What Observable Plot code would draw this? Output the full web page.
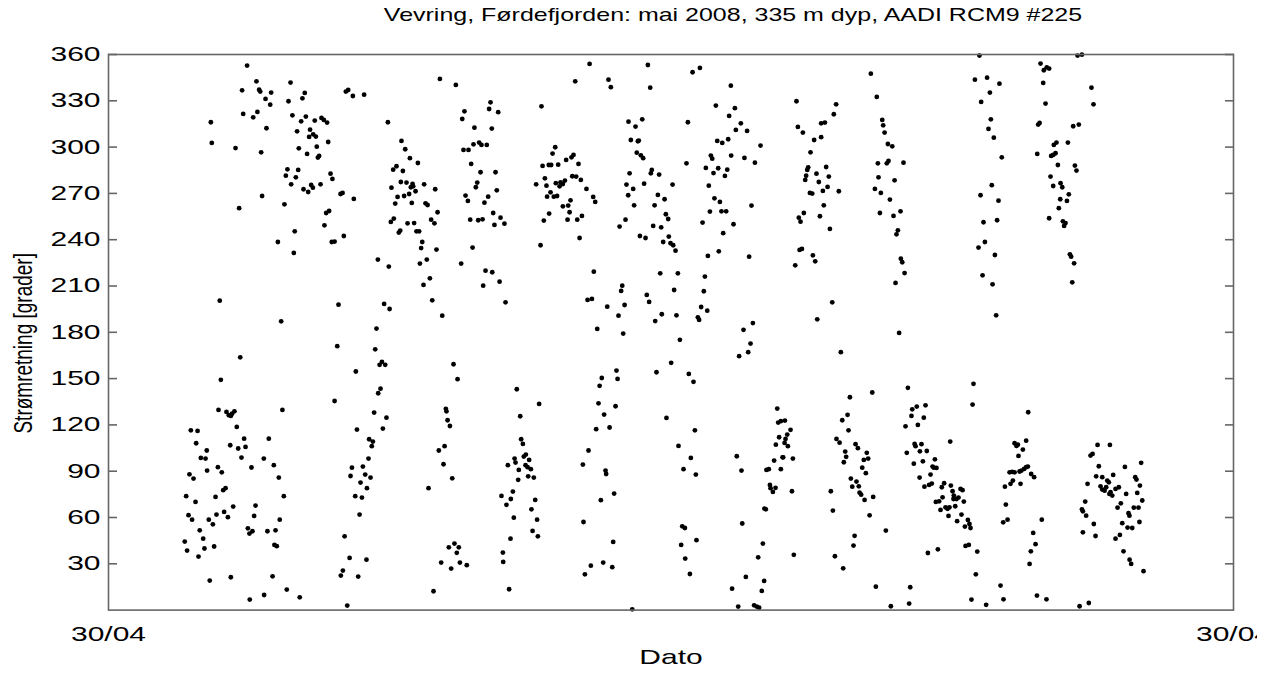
<!DOCTYPE html>
<html>
<head>
<meta charset="utf-8">
<script src="https://cdn.jsdelivr.net/npm/d3@7"></script>
<script src="https://cdn.jsdelivr.net/npm/@observablehq/plot@0.6"></script>
<style>
  html, body { margin: 0; padding: 0; background: #fff; }
  body { width: 1274px; height: 689px; overflow: hidden; font-family: "Liberation Sans", Arial, sans-serif; position: relative; }
  #title { position: absolute; left: 0; top: 0; width: 1274px; height: 30px; }
  #title span { position: absolute; left: 733px; top: 15px; font-size: 18.5px; line-height: 1; color: #000; white-space: nowrap; transform: translate(-50%, -50%) scaleX(1.35); }
  #chart { position: absolute; left: 0; top: 30px; }
</style>
</head>
<body>
<div id="title"><span></span></div>
<div id="chart"></div>
<script>
const titleText = "Vevring, Førdefjorden: mai 2008, 335 m dyp, AADI RCM9 #225";
const yLabel = "Strømretning [grader]";
const xLabel = "Dato";
const yTicks = [30, 60, 90, 120, 150, 180, 210, 240, 270, 300, 330, 360];
const xTicks = [0, 720];               // hours since 30/04 00:00
const xTickLabels = ["30/04", "30/04"];

// time of each observation, hours after 30/04 00:00
const hours = [
  88.7,94.7,116.5,85.5,96.4,97.1,104.1,125.6,100.5,124.1,
  115.2,103.5,86.2,95.3,92.6,117.7,126.3,123.3,132,136.3,
  137.8,139.9,65.5,101.1,120.7,129,131,132.7,128.4,140.6,
  66.1,81.3,121.8,133.3,97.7,127.1,134.8,134,114.5,121.4,
  113.5,119.9,142.1,143.3,116.9,129.7,135.7,130.8,124.8,127.8,
  98.3,83.6,112.6,139.3,141.2,138.2,119.2,108.4,142.9,118.6,
  71.2,110.5,
  84.3,71.9,70.4,111.3,75.5,77,78.3,79.1,80.6,52.7,
  57,82.1,56.1,86.8,102.6,77.9,83,87.7,62.9,59.1,
  62.1,85.1,99.4,70,72.5,91.5,105.8,63.1,51.8,54.4,
  109,73.4,74.9,49.7,68.5,112.2,55.7,79.8,94.1,51.2,
  53.5,69.1,74,76.4,93.2,64.2,109.6,66.8,89.2,90.2,
  92.1,58.4,101.7,106.9,60.6,48.8,50.3,61.4,67.6,106.2,
  107.7,57.6,64.8,78.3,105,114.1,90.4,99.6,122.4,
  144.7,148.5,149.8,157,150.6,147.2,151.9,153.4,156.4,163.6,
  212.1,222.3,178.8,187.5,189.9,192.9,198,182.2,184.3,188.4,
  187.1,190.7,194.6,193.5,195,196.5,181.1,202,209.1,185,
  189.2,192.4,183.5,194.1,202.9,204.2,210.6,180.7,182.6,191.4,
  195.6,206.5,208.6,185.8,186.7,197.1,198.8,200.8,200.1,209.9,
  172.4,179.4,199.3,203.7,205.7,201.6,207.2,176.4,179.9,213.6,
  244.5,243.6,249.4,227.8,226.4,234.2,245.3,227.2,230.4,233.6,
  237.2,238.7,242.1,232.1,238.1,247.7,236,235.1,228.5,230,
  243,240.6,248.5,246.2,250.9,231.5,236.6,239.4,247,253.4,
  233,225.7,241.3,245.6,239.8,250.3,254.1,
  277.1,285.9,284.2,277.8,281.8,283.3,279.3,273.7,280.3,286.3,
  282.9,280.7,285,287.1,282,278.6,276.5,
  171.5,146.4,170.7,158.3,173.5,175,177.1,144.7,174.1,172.6,
  170,177.9,159,175.6,166.8,169.2,168.5,166.4,155.8,162.8,
  154.9,164.3,167.7,161.3,165.4,157.9,162.2,160.7,151.1,154.3,
  165.1,150,148.7,159.8,152.8,
  220.8,223.4,215.9,216.3,217,218.5,215.1,211.4,214.4,220,
  204.8,221.4,217.8,224.2,222.9,212.9,224.9,219.3,229.3,208,
  261.3,275.6,263.5,264.1,265.2,267.1,265.8,259.9,260.5,269.2,
  255.6,266.9,268.2,270.3,262.6,268.6,272.2,262.2,258.8,251.5,
  257.5,254.7,273.1,270.7,259.4,274.3,271.4,274.8,257.3,252.4,
  252.6,256.4,
  287.8,292.9,296.3,297.6,300.8,289.3,290.8,292.1,288.7,296.8,
  299.3,302.3,305.9,310.2,311.5,295.7,290.8,294.2,295.1,293.8,
  300,303,301.5,298.7,307.9,320,321.5,345.2,346.7,310.6,
  306.6,309.4,319.2,326.4,328.8,328.1,330.3,
  332.8,337.3,341.6,334.3,338.8,339.4,338.1,340.7,342.2,333.5,
  331.5,335.8,332.6,342.8,347.7,347.1,352.4,361,336.4,349.5,
  351.6,355.9,356.7,358.2,330.9,327.1,348.6,353.7,340.1,343.7,
  358.6,355,359.7,361.4,362.9,353.1,364.4,362,344.5,346,
  354.1,349.9,363.5,
  373.8,378.5,398.3,388.7,400.9,397.2,370.8,404.7,401.5,408.7,
  389.6,392.8,396.6,417.3,385.5,386.4,398.5,407,413.7,369.9,
  382.3,387.2,390.2,396,394.5,384.2,387.8,391.3,384.9,392.3,
  395.3,411.5,380.2,400,393.4,390.6,383.6,410,381.7,381,
  379.3,383.2,377.2,378,412.4,
  312.8,329.4,406.4,365.7,410.9,409.4,403.6,360.1,350.7,371.4,
  374.4,325.1,325.8,315.7,314.3,313.6,324.5,317.2,312.1,320.7,
  357.1,375.3,307.2,303.6,318.1,318.5,364.8,372.7,368,375.9,
  402.1,405.1,323.6,315.1,304,367.2,368.9,405.6,323,366.5,
  376.3,369.1,372.1,308.7,316.6,322.4,304.9,335.2,
  428,428.6,430.3,429.2,427.1,426,431.4,421.1,422.6,430.3,
  423.3,423.7,426.9,425.2,419.8,420.7,418.8,415.8,407.9,419.6,
  399.1,418.1,403,413.2,414.9,416.4,
  440.3,465.7,464.2,441.2,444.4,456.1,458.5,451.6,456.1,449.3,
  447.8,447.2,459.3,453.1,446.5,445.9,461,454.6,460.2,457.2,
  448.9,450.4,467.4,457.8,445,441.8,442.9,455.3,461.7,442.3,
  443.8,450.8,452.3,439.5,463.2,453.6,
  487.9,491.7,495.2,495.8,496.7,498.8,501.6,492.4,498.1,499.2,
  508.8,492.8,503.1,490.5,494.3,500.1,493.7,502.4,506.9,505.2,
  504.3,507.1,508,509.5,503.7,
  557.4,554.5,562.3,570.2,564.1,558.5,564.7,563.2,566.6,571.7,
  565.3,558.1,569.6,560,568.7,560.9,556.8,567.3,559.4,565.8,568.1,
  506,468.7,432.9,436.5,434.4,433.3,434.8,432.7,431.8,438,
  437.4,438.6,462.3,463.6,464.9,470.2,
  474.5,488.8,473,469.6,473.6,465.9,467.9,471.5,472.1,470.6,
  478.1,479.6,485.3,483.4,486.2,482.4,484.7,475.1,478.7,476,
  480.2,480.7,481.7,483.9,489.4,487.1,497.5,477.5,476.8,491.1,500.7,
  511.6,553.6,553,514.4,517.3,522.9,513.9,521.8,518,510.1,
  538.7,515.9,516.5,520.3,519.3,523.7,510.9,515.4,521.2,528.9,
  527.4,529.9,528.2,526.1,519.1,522.2,525.2,526.9,534.8,539.1,
  533.3,529.5,531.6,533.8,535.7,537,538.2,532.5,537.6,540.2,
  541,540.8,542.7,544,545.3,546.6,547.4,541.9,545.9,543.1,
  548.1,550,551,551.7,548.5,550.6,556,555.1,524.4,530.8,
  513.1,512.4,552.3,561.7,570.9,572.8,573.7,574.3,572.6,575.4,
  620.2,623,596.5,598.6,600.5,602,598.2,629.1,599.7,630.4,
  595,595.9,617.4,621,605,606.7,614,594.4,603.3,604.6,
  606.1,607.6,618.5,619.5,602.9,604.6,609.3,610.4,614.6,609.1,
  613.4,608.2,602,610.8,612.5,611.6,615.3,616.1,618,616.8,
  588.6,587.3,579.9,581.1,582,585.2,582.4,576.7,578.4,579.9,
  583.1,584.3,586,587.3,588.4,578.8,583.7,590.5,592.4,577.3,
  597.3,591.8,593.3,590.3,589.5,594.2,600.3,
  633,640.9,628.5,629.8,633.8,650.5,660.9,632.1,636,626.6,
  643,639.2,640.2,634.9,636,637.5,638.5,641.3,642.4,640.6,
  644.5,646.6,651.3,657.1,657.9,660.1,658.4,661.6,659.2,656.2,
  647.9,645.8,652.8,653.4,659.8,648.8,652.2,655.2,647.3,644.5,
  625.1,623,623.6,625.7,630.6,623.6,631.7,649.6,653.5,654.5,
  662.4,621.5,627.4
];

// current direction, degrees
const direction = [
  352.8,342.6,341.8,336.8,337.2,336,335.3,335.1,331.2,331.6,
  329.7,327.5,321.5,322.8,319.3,320.6,319.8,316.7,317.2,318.9,
  317.6,315.9,316.1,312.2,310.2,311.3,308.3,306.8,306.6,303.3,
  302.7,299.4,299.2,300.3,296.6,295.6,294.3,293.2,285.6,285.2,
  281.5,280.4,282.8,279.4,275.9,275.5,275.9,273.7,272.7,270.9,
  268.3,260.4,262.9,257.3,258.6,249.3,245.4,238.5,238.5,231.4,
  200.5,187.1,
  163.8,149.2,129.7,129.7,128.4,126.3,125.8,127.3,128.8,116.5,
  116.1,118.7,108.1,111.1,111.1,106.8,104.7,105.7,103.4,98.6,
  98.2,98.8,98.2,92.6,89.3,92.4,93.9,90.4,88,85.2,
  85.9,77.7,79,73.8,73.3,73.8,70.1,67.1,67.7,61.5,
  58.6,61.9,63.6,60.2,61,58.6,58.6,55.6,53,49.6,
  51.1,51.7,51.1,51.7,46.3,44.4,38.6,39.9,41.2,42.2,
  41.4,34.7,19.1,21.3,21.9,13.3,6.8,9.8,8.3,
  238.8,269.6,270.3,266.4,242.4,197.9,336,337,333.1,334,
  344.2,340.3,316.1,304,298.6,292.8,289.7,285.4,287.6,284.5,
  277.4,277,276.1,274,274.6,271.4,273.7,275.9,272.7,267.7,
  268.3,269.6,263.4,263.8,263.6,262.5,257.8,251.5,253.7,250.6,
  250.8,253,250.6,244.6,245.9,245.4,245.4,238.5,234.6,233.6,
  227.1,222.6,224.5,227.1,215,210.7,200.7,198.4,195.1,190.8,
  329,324.7,322.6,323.2,318.2,312.6,312,298.2,298.2,301.8,
  302.9,301.4,301.4,289.1,283.7,283.7,277,274,268.6,265.1,
  267.9,264,272,257.3,254.3,253,252.6,253.2,249.6,250.4,
  234.9,224.5,219.9,218.9,210.2,212.8,199.4,
  326.4,299.9,295.8,287.8,288.4,288.4,279.8,275.9,275,276.6,
  270.7,267.9,267.9,268.3,256.9,252.4,236.4,
  182.4,171,169,154.6,158.9,160.8,158.9,135.5,143.5,140.5,
  128,124.7,117,117.6,110.7,109.2,106.2,98.2,92.3,93,
  86.9,87.8,85.9,82.6,79,73.8,72.9,61.9,47.8,33.8,
  32.7,25.6,22.4,21.7,2.9,
  159.3,149.6,130.4,128.8,123,119.3,106.2,103.4,94.5,85.4,
  79,43.1,40.7,40.7,37.1,30.8,30.8,26.9,29.1,12.2,
  143.1,133.6,125.6,110.7,107.7,100.8,99.5,98.2,95.6,97.3,
  93.9,93.9,92.6,91.3,90.8,86.7,85.9,84.4,76.8,74,
  72,68.2,71.4,65.3,59.9,58.6,51.3,47.8,46.3,37.3,
  31.2,13.5,
  288.6,291.7,293.4,294.9,289.1,277.2,276.1,278.3,274.6,281.1,
  280.9,278.7,272.9,267.7,264.5,265.5,261.6,262.1,257.8,253,
  253,255.4,241.1,342.6,353.9,343.7,338.8,353.2,338.5,219.3,
  201,201.6,196.6,190.8,210.2,206.8,197.7,
  316.5,313.3,318,304.6,303.8,304.2,296.4,294.7,292.8,283,
  275.7,272.9,268.8,276.3,285.2,283,282.2,275.7,262.3,262.3,
  269,266.2,256.5,253.4,253,248.5,248.9,248,242.4,241.1,
  242,238.5,237.7,236.4,232.9,218.2,218.2,207.4,204.2,199.7,
  191.7,187.3,191,
  348.5,351.3,339.8,326.9,325.2,320.2,316.1,315.4,311.1,310.5,
  304,302.7,305.1,301,294.5,292.5,294.5,293,289.9,289.5,
  286.5,283.2,286.3,285.4,281.3,275,266.8,264.5,258.2,258.4,
  258.4,262.1,251.1,250,244.2,232.5,229.5,229,216.1,206.6,
  196.4,194,189.7,188,186,
  182.2,179.2,181.6,175.1,172.7,167.1,164.5,160.2,154.1,153,
  147.9,155.2,149.8,150.4,145.3,134,132.1,126.7,117.2,118.3,
  124.5,116.5,103.4,94.3,90.4,88.2,106.4,98.6,91.3,87.8,
  99.7,90.4,75.5,71.2,57.1,54.3,53.2,56.1,44.2,42.2,
  45.3,33.4,23.4,28.8,30.8,27.8,23.2,0.5,
  130.6,121.5,122.4,112,107.2,96.9,99,90.8,91.3,91.3,
  81.1,79,79.2,76.6,65.8,65.3,43.1,34.2,21.5,18.9,
  13.9,12.4,2.3,3.1,2.3,1.6,
  329.7,327.7,321.3,313.1,309.4,315.4,315.9,304.6,306.4,296.6,
  286.9,285.2,287.1,282.8,281.5,278.7,280.9,277.4,274.2,271.6,
  270.3,269.9,271.4,262.3,257.3,254.3,251.7,255.2,247,233.4,
  234,229.9,226,223.4,199.4,188.4,
  347.6,332.5,317.6,314.1,309.4,302,300.5,289.5,289.5,291,
  289.9,280.4,278.5,272.9,270.3,266,257.3,255.4,258.4,246.1,
  243.5,227.7,225.4,218.4,212,
  359.3,343.7,345,341.1,335.3,329.3,318,311.8,306.1,293.4,
  275.3,268.8,265.3,251.3,252.6,238.5,234.9,230.1,216.9,211.1,191,
  179.6,167.1,122.8,116.8,113.7,110.9,106.2,108.3,99,98.2,
  77,35.8,77,64.5,34.9,27.1,
  137.9,141,126.5,123,116.5,110.9,108.5,102.7,99.3,95.8,
  107.5,104.9,101.9,97.3,98.2,92.3,88.7,85.2,83.3,80,
  80.2,76.1,74.8,71.4,73.3,61.4,51.5,48.1,41.8,15.2,2.5,
  144,146.6,133.2,130.1,131.9,132.7,125.8,124.7,120,119.1,
  109.2,107.7,106.2,107.5,102.9,103.1,101.9,94.9,96.4,97.7,
  93,92.1,92.3,87.8,85.9,80,81.1,82,82.2,80.7,
  79.6,70.1,70.5,73.1,66.6,65.6,66.6,64.9,61,77,
  74.2,72,72,72.9,78.5,77.7,70.3,67.3,61.9,57.6,
  54.1,58.4,55.8,53.2,41.6,42.2,37.9,23.2,37,39.4,
  14.8,4.2,6.8,3.4,15.9,7,80,68.4,56.9,58.6,
  359.3,359.9,354.1,349.8,351.7,350.9,341.6,338.5,328.2,327.7,
  314.6,315.6,313.5,314.6,301.4,302.9,302.9,295.6,294.3,294.9,
  296,288.4,288,284.8,280.9,274.8,276.6,274,269.4,266.2,
  265.1,260.4,253.9,251.9,250.8,248.9,230.5,229,224.7,212.4,
  128.2,109.8,108.1,106.4,107.2,104,99.9,89.3,89.5,89.3,
  89.8,90.4,91.5,92.6,93,83.9,81.8,88.2,86.1,81.8,
  58.6,50,42.7,38.1,29.9,9.4,7,
  107,107,100.1,101.2,93.2,92.8,95.4,86.7,86.1,81.8,
  87.6,83.9,82.8,80.2,78.1,77.4,79.6,76.4,74.2,75.3,
  78.5,79.6,75.3,86.1,84.6,80.7,75.9,71,66.4,66.4,
  69.2,66.4,62.8,61.2,57.1,56.3,53.5,53.2,48.7,46.3,
  70.3,65.3,64,61.2,55.8,50.4,48,38.1,32.7,29.9,
  25.2,2.5,4.6
];

if (hours.length !== direction.length) console.error("length mismatch", hours.length, direction.length);
const data = hours.map((h, i) => ({h, d: direction[i]}));

document.querySelector("#title span").textContent = titleText;

const axisColor = "#666666";
const chart = Plot.plot({
  width: 1257,
  height: 659,
  marginTop: 24,
  marginBottom: 79.4,
  marginLeft: 108,
  marginRight: 24,
  x: {type: "linear", domain: [0, 720]},
  y: {type: "linear", domain: [0, 360]},
  style: {fontFamily: "'Liberation Sans', Arial, sans-serif", fontSize: "20px", color: "#000", background: "#fff", overflow: "hidden"},
  marks: [
    Plot.dot(data, {x: "h", y: "d", r: 2.4, fill: "#000", stroke: null}),
    Plot.frame({stroke: axisColor, strokeWidth: 1.6}),
    Plot.axisY({anchor: "left", ticks: yTicks, tickSize: -9, stroke: axisColor, strokeWidth: 1.6, tickFormat: () => "", label: null}),
    Plot.axisY({anchor: "right", ticks: yTicks, tickSize: -9, stroke: axisColor, strokeWidth: 1.6, tickFormat: () => "", label: null}),
    Plot.axisY({anchor: "left", ticks: yTicks, tickSize: 0, tickPadding: 8, fontSize: 20, label: null}),
    Plot.axisX({anchor: "bottom", ticks: xTicks, tickSize: 0, tickPadding: 17, fontSize: 20, label: null,
      tickFormat: d => xTickLabels[xTicks.indexOf(d)]}),
    Plot.text([xLabel], {text: d => d, frameAnchor: "bottom", dy: 54, fontSize: 20, fill: "#000"}),
    Plot.text([yLabel], {text: d => d, frameAnchor: "left", textAnchor: "middle", dx: -85, dy: 11, rotate: -90, fontSize: 19, fill: "#000"})
  ]
});

// the reference's texts are drawn wider than tall (stretched horizontally on screen)
chart.querySelectorAll("text").forEach(t => {
  const rotated = t.textContent === yLabel;
  const s = rotated ? " scale(1,1.4)" : " scale(1.5,1)";
  const tr = t.getAttribute("transform");
  if (tr && /translate/.test(tr)) {
    t.setAttribute("transform", tr + s);
  } else {
    const x = +(t.getAttribute("x") || 0), y = +(t.getAttribute("y") || 0);
    t.setAttribute("transform", `translate(${x},${y})${s} translate(${-x},${-y})`);
  }
});
document.getElementById("chart").appendChild(chart);
</script>
</body>
</html>
